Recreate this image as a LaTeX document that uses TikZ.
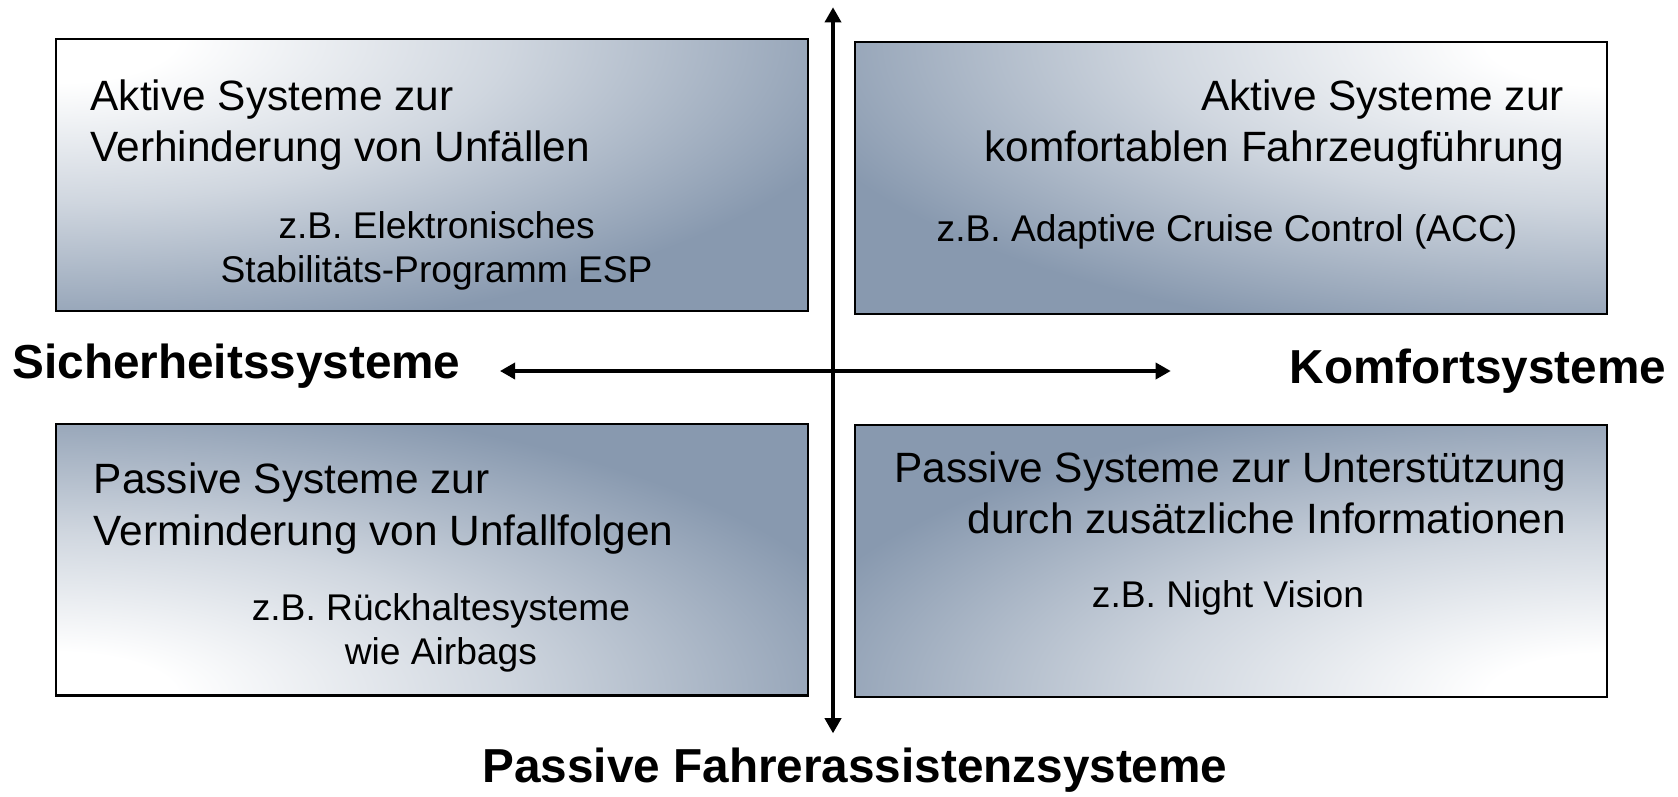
\documentclass[tikz,border=0pt]{standalone}
\usepackage{fontspec}
\setmainfont{Liberation Sans}
\usetikzlibrary{arrows.meta}
\definecolor{panelblue}{RGB}{136,153,175}
\colorlet{panelmid}{panelblue!40!white}
\pgfdeclareradialshading{cornerglow}{\pgfpoint{0bp}{0bp}}{color(0bp)=(white); color(4bp)=(white); color(15bp)=(panelmid); color(28bp)=(panelblue); color(50bp)=(panelblue)}
\tikzset{
	panel/.style={draw, line width=0.6pt, minimum width=7.526cm, minimum height=2.716cm, inner sep=0pt,
		path picture={\shade[shading=cornerglow] ([shift={(-7.526cm,-2.716cm)}]path picture bounding box.#1) rectangle ([shift={(7.526cm,2.716cm)}]path picture bounding box.#1);}},
	title/.style={inner sep=0pt, font=\fontsize{12.06}{14.6}\selectfont},
	example/.style={inner sep=0pt, anchor=north, align=center, font=\fontsize{10.58}{12.5}\selectfont},
	axislabel/.style={inner sep=0pt, font=\fontsize{13.57}{16}\selectfont\bfseries},
	axis/.style={line width=0.95pt, {Triangle[length=4.3pt,width=4.6pt]}-{Triangle[length=4.3pt,width=4.6pt]}}
}

\begin{document}
\begin{tikzpicture}

					\useasboundingbox (0,0) rectangle (16.78,7.96);

					\node[panel=north west] (aktivsicher) at (4.32,6.212) {};
					\node[panel=north east] (aktivkomfort) at (12.31,6.178) {};
					\node[panel=south west] (passivsicher) at (4.32,2.363) {};
					\node[panel=south east] (passivkomfort) at (12.31,2.352) {};

					\node[title, anchor=north west, align=left] (aktivsichertitel) at (0.899,7.17) {Aktive Systeme zur\\Verhinderung von Unfällen};
					\node[example] (aktivsicherbsp) at (4.366,5.852) {z.B. Elektronisches\\Stabilitäts-Programm ESP};

					\node[title, anchor=north east, align=right] (aktivkomforttitel) at (15.646,7.17) {Aktive Systeme zur\\komfortablen Fahrzeugführung};
					\node[example] (aktivkomfortbsp) at (12.27,5.82) {z.B. Adaptive Cruise Control (ACC)};

					\node[title, anchor=north west, align=left] (passivsichertitel) at (0.931,3.337) {Passive Systeme zur\\Verminderung von Unfallfolgen};
					\node[example] (passivsicherbsp) at (4.409,2.031) {z.B. Rückhaltesysteme\\wie Airbags};

					\node[title, anchor=north east, align=right] (passivkomforttitel) at (15.668,3.454) {Passive Systeme zur Unterstützung\\durch zusätzliche Informationen};
					\node[example] (passivkomfortbsp) at (12.28,2.16) {z.B. Night Vision};

					\node[axislabel] (sicherheit) at (2.365,4.30) {Sicherheitssysteme};
					\node[axislabel] (komfort) at (14.78,4.246) {Komfortsysteme};
					\node[axislabel] (passiv) at (8.55,0.255) {Passive Fahrerassistenzsysteme};

					\coordinate (oben) at (8.33,7.887);
					\coordinate (unten) at (8.33,0.627);
					\coordinate (links) at (5.00,4.25);
					\coordinate (rechts) at (11.707,4.25);

					\draw[axis] (unten) -- (oben);
					\draw[axis] (links) -- (rechts);

				\end{tikzpicture}
\end{document}
